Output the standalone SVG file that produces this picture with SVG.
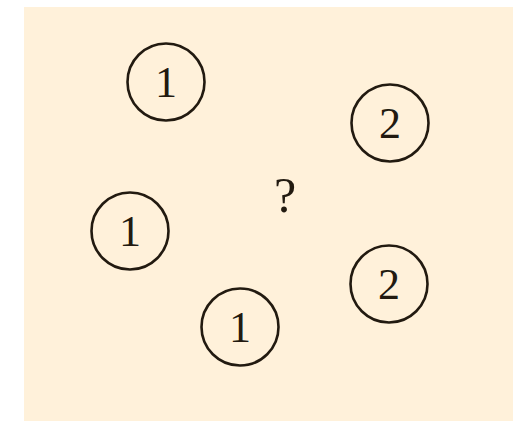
<svg xmlns="http://www.w3.org/2000/svg" width="521" height="421" viewBox="0 0 521 421">
<style>
.n circle{fill:none;stroke:#221a10;stroke-width:2.6}
.n text{font-family:"Liberation Serif","DejaVu Serif",serif;font-size:44px;fill:#221a10;text-anchor:middle}
.q{font-family:"Liberation Serif","DejaVu Serif",serif;font-size:50px;fill:#221a10;text-anchor:middle}
</style>
<rect width="521" height="421" fill="#ffffff"/>
<rect x="24" y="7" width="489" height="414" fill="#fff1da"/>
<g id="n1" class="n"><circle cx="166" cy="82" r="38.5"/><text x="166" y="97">1</text></g>
<g id="n2" class="n"><circle cx="390" cy="123" r="38.5"/><text x="390" y="138">2</text></g>
<g id="n3" class="n"><circle cx="130" cy="231" r="38.5"/><text x="130" y="246">1</text></g>
<g id="n4" class="n"><circle cx="389" cy="284" r="38.5"/><text x="389" y="299">2</text></g>
<g id="n5" class="n"><circle cx="240" cy="327" r="38.5"/><text x="240" y="342">1</text></g>
<g id="connectors"></g>
<text class="q" x="285" y="212">?</text>
</svg>
